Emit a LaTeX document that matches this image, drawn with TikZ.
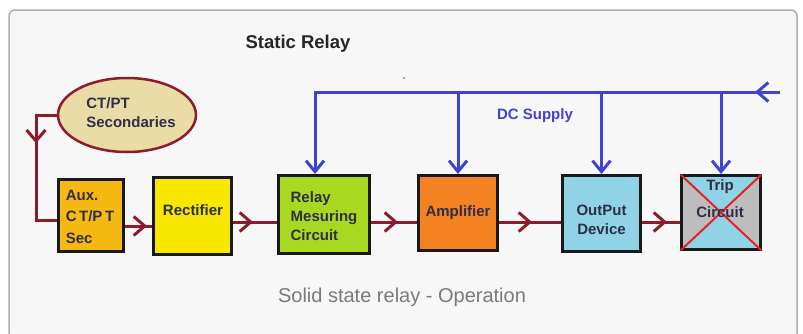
\documentclass[tikz,border=0pt]{standalone}
\usepackage{fontspec}
\setmainfont{Liberation Sans}
\usetikzlibrary{shapes.geometric,arrows.meta,decorations.markings}
\definecolor{dred}{HTML}{8E1B2B}
\definecolor{dblue}{HTML}{4141D2}
\definecolor{txt}{HTML}{2E2E48}
\definecolor{framec}{HTML}{B5ADA5}
\definecolor{bgc}{HTML}{F7F7F7}
\definecolor{auxc}{HTML}{F6B914}
\definecolor{rectc}{HTML}{F8E800}
\definecolor{relayc}{HTML}{A8D820}
\definecolor{ampc}{HTML}{F58220}
\definecolor{outc}{HTML}{90D3E6}
\definecolor{greyc}{HTML}{BDBDBD}
\definecolor{ellc}{HTML}{EADCA6}
\definecolor{xred}{HTML}{E8202A}
\begin{document}
\begin{tikzpicture}[x=1pt,y=-1pt,
  box/.style={draw=black!90, line width=3pt, rectangle, inner sep=0pt},
  lbl/.style={text=txt, font=\fontsize{15}{19}\selectfont\bfseries, inner sep=0pt},
  redline/.style={draw=dred, line width=3pt},
  blueline/.style={draw=dblue, line width=3pt},
  barbtip/.style={-{Straight Barb[length=11pt,width=18pt,line width=3pt]}},
  midarrow/.style={postaction={decorate}, decoration={markings,
     mark=at position #1 with {\arrow{Straight Barb[length=11pt,width=19pt,line width=3pt]}}}}
]
\useasboundingbox (0,0) rectangle (803,333);
\clip (0,0) rectangle (803,333);
\fill[white] (0,0) rectangle (803,333);
\draw[draw=framec, fill=bgc, line width=1.5pt, rounded corners=6pt] (9,10) rectangle (797,370);

\node[text=black!85, font=\fontsize{18.5}{22}\selectfont\bfseries] (title) at (298,44) {Static Relay};
\fill[gray!70] (404,78) circle (1.3pt);

% blocks
\node[ellipse, draw=dred, line width=2.5pt, fill=ellc, minimum width=138pt, minimum height=74pt] (ell) at (127,115) {};
\node[box, fill=auxc, minimum width=65pt, minimum height=72pt] (aux) at (91,215.5) {};
\node[box, fill=rectc, minimum width=78pt, minimum height=77pt] (rect) at (192.5,216) {};
\node[box, fill=relayc, minimum width=91pt, minimum height=78pt] (relay) at (324,214.5) {};
\node[box, fill=ampc, minimum width=79pt, minimum height=75pt] (amp) at (458,213) {};
\node[box, fill=outc, minimum width=78pt, minimum height=76pt] (out) at (601.5,213.5) {};
\node[box, fill=greyc, minimum width=79pt, minimum height=74pt,
  path picture={
    \fill[outc] (path picture bounding box.north west) -- (path picture bounding box.north east) -- (path picture bounding box.center) -- cycle;
    \fill[outc] (path picture bounding box.south west) -- (path picture bounding box.south east) -- (path picture bounding box.center) -- cycle;
  }] (trip) at (721,212.5) {};
\draw[xred, line width=2pt, shorten <=1pt, shorten >=1pt] (trip.north west) -- (trip.south east);
\draw[xred, line width=2pt, shorten <=1pt, shorten >=1pt] (trip.north east) -- (trip.south west);

% labels
\node[lbl, align=left] (ellt) at (131,113) {CT/PT\\Secondaries};
\node[lbl, align=left, font=\fontsize{15}{21.5}\selectfont\bfseries] (auxt) at (90,216.5) {Aux.\\C\,T/P\,T\\Sec};
\node[lbl] (rectt) at (193,210) {Rectifier};
\node[lbl, align=left] (relayt) at (324,216) {Relay\\Mesuring\\Circuit};
\node[lbl] (ampt) at (458,213) {Amplifier};
\node[lbl, align=center] (outt) at (601.5,219.5) {OutPut\\Device};
\node[lbl, align=center, font=\fontsize{15}{27}\selectfont\bfseries] (tript) at (720,198.5) {Trip\\Circuit};
\node[text=dblue, font=\fontsize{15}{18}\selectfont\bfseries] (dct) at (535,116) {DC Supply};
\node[text=black!52, font=\fontsize{20}{24}\selectfont] (cap) at (402,297) {Solid state relay - Operation};

% red signal path
\coordinate (c1) at (36,115);
\coordinate (c2) at (36,220);
\coordinate (yA) at (0,226);
\coordinate (yB) at (0,222);
\draw[redline, midarrow=49pt] (ell.west) -- (c1) -- (c2) -- (c2 -| aux.west);
\draw[redline, midarrow=22pt] (aux.east |- yA) -- (rect.west |- yA);
\draw[redline, midarrow=20pt] (rect.east |- yB) -- (relay.west |- yB);
\draw[redline, midarrow=27pt] (relay.east |- yB) -- (amp.west |- yB);
\draw[redline, midarrow=33pt] (amp.east |- yB) -- (out.west |- yB);
\draw[redline, midarrow=25pt] (out.east |- yB) -- (trip.west |- yB);

% blue DC supply
\coordinate (bR) at (780,92);
\coordinate (bL) at (315,92);
\draw[blueline, barbtip, midarrow=25pt] (bR) -- (bL) -- (bL |- relay.north);
\draw[blueline, barbtip] (bL -| amp.north) -- (amp.north);
\draw[blueline, barbtip] (bL -| out.north) -- (out.north);
\draw[blueline, barbtip] (bL -| trip.north) -- (trip.north);
\end{tikzpicture}
\end{document}
